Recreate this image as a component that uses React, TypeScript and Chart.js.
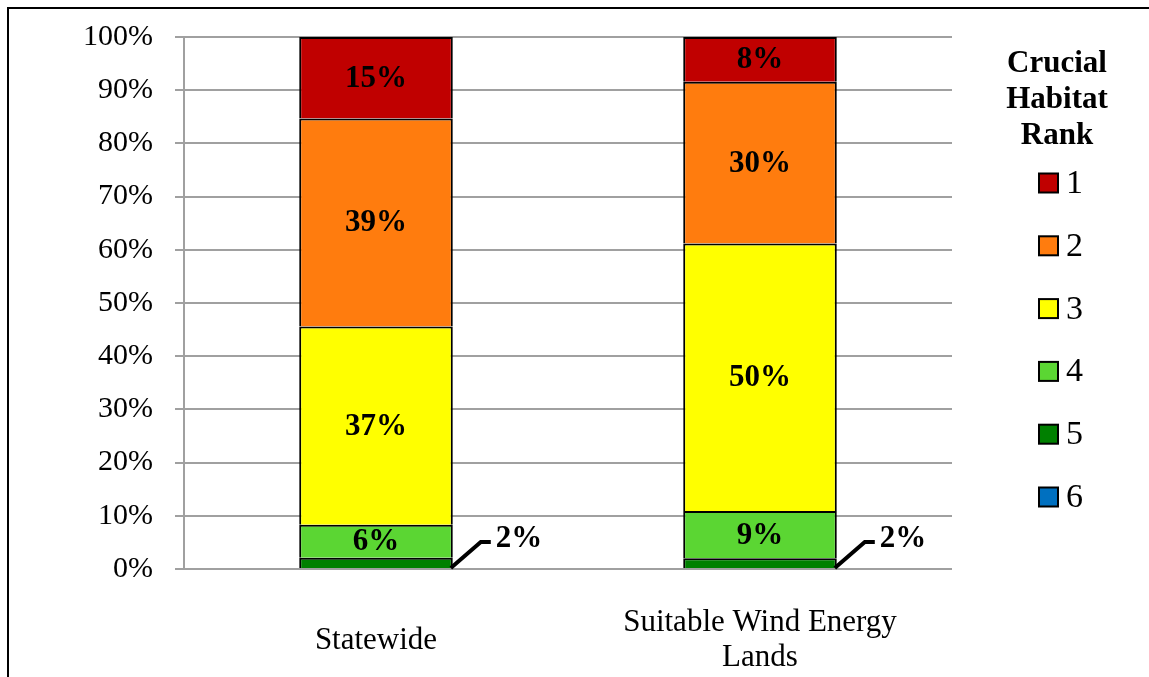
import React, { useEffect, useRef } from "react";
import { Chart, registerables } from "chart.js";

Chart.register(...registerables);

const FONT = "'Liberation Serif', 'Times New Roman', serif";

const categories: (string | string[])[] = ["Statewide", ["Suitable Wind Energy", "Lands"]];
const rankLabels = ["1", "2", "3", "4", "5", "6"];
const rankColors = ["#C00000", "#FF7C0E", "#FFFF00", "#5BD633", "#008000", "#0070C0"];
const statewide = [15.3, 39.1, 37.3, 6.2, 2.1, 0];
const suitableWind = [8.4, 30.4, 50.3, 8.9, 2.0, 0];
const yTickLabels = ["0%", "10%", "20%", "30%", "40%", "50%", "60%", "70%", "80%", "90%", "100%"];
const legendTitle = ["Crucial", "Habitat", "Rank"];

const segLabelPlugin = {
  id: "segLabels",
  afterDatasetsDraw(chart: any) {
    const ctx = chart.ctx;
    ctx.save();
    ctx.fillStyle = "#000";
    ctx.strokeStyle = "#000";
    ctx.font = `bold 31px ${FONT}`;
    ctx.textBaseline = "middle";
    chart.data.datasets.forEach((ds: any, di: number) => {
      const meta = chart.getDatasetMeta(di);
      meta.data.forEach((el: any, i: number) => {
        const v = ds.data[i];
        if (!v) return;
        const { x, y, base, width } = el.getProps(["x", "y", "base", "width"], true);
        const txt = Math.round(v) + "%";
        if (v >= 4) {
          ctx.textAlign = "center";
          ctx.fillText(txt, x, (y + base) / 2 + 1);
        } else {
          const r = x + width / 2;
          ctx.lineWidth = 4;
          ctx.beginPath();
          ctx.moveTo(r - 2, base);
          ctx.lineTo(r + 28, base - 26);
          ctx.lineTo(r + 38, base - 26);
          ctx.stroke();
          ctx.textAlign = "left";
          ctx.fillText(txt, r + 43, base - 29);
        }
      });
    });
    ctx.restore();
  },
};

const legendPlugin = {
  id: "customLegend",
  afterDraw(chart: any) {
    const ctx = chart.ctx;
    ctx.save();
    ctx.fillStyle = "#000";
    ctx.textBaseline = "middle";
    ctx.textAlign = "center";
    ctx.font = `bold 31px ${FONT}`;
    legendTitle.forEach((t, i) => ctx.fillText(t, 1057, 64 + i * 36));
    const ds = [...chart.data.datasets].reverse();
    ds.forEach((d: any, k: number) => {
      const cy = 183 + k * 62.8;
      ctx.fillStyle = d.backgroundColor;
      ctx.fillRect(1039, cy - 9.5, 19, 19);
      ctx.lineWidth = 2;
      ctx.strokeStyle = "#000";
      ctx.strokeRect(1039, cy - 9.5, 19, 19);
      ctx.fillStyle = "#000";
      ctx.textAlign = "left";
      ctx.font = `34px ${FONT}`;
      ctx.fillText(d.label, 1066, cy + 1);
    });
    ctx.restore();
  },
};

export default function App() {
  const ref = useRef<HTMLCanvasElement>(null);
  useEffect(() => {
    if (!ref.current) return;
    const idx = [5, 4, 3, 2, 1, 0];
    const chart = new Chart(ref.current, {
      type: "bar",
      data: {
        labels: categories as any,
        datasets: idx.map((k) => ({
          label: rankLabels[k],
          data: [statewide[k], suitableWind[k]],
          backgroundColor: rankColors[k],
          borderColor: "#000",
          borderWidth: 2,
          barPercentage: 0.4,
          categoryPercentage: 1.0,
        })),
      },
      options: {
        animation: false,
        responsive: false,
        layout: { padding: { top: 37, right: 197, left: 0, bottom: 0 } },
        plugins: {
          legend: { display: false },
          tooltip: { enabled: false },
        },
        scales: {
          x: {
            stacked: true,
            grid: { display: false, drawTicks: false },
            border: { display: false },
            ticks: {
              color: "#000",
              font: { family: FONT, size: 31, lineHeight: 1.13 },
              padding: 54,
              crossAlign: "center",
              maxRotation: 0,
              autoSkip: false,
            },
            afterFit: (s: any) => {
              s.height = 108;
              s.paddingTop = 0;
              s.paddingBottom = 0;
            },
          },
          y: {
            stacked: true,
            min: 0,
            max: 100,
            ticks: {
              stepSize: 10,
              color: "#000",
              font: { family: FONT, size: 30 },
              padding: 22,
              callback: (_v: any, i: number) => yTickLabels[i],
            },
            grid: { color: "#a0a0a0", lineWidth: 2, tickLength: 9 },
            border: { color: "#a0a0a0", width: 2 },
            afterFit: (s: any) => {
              s.width = 184;
              s.paddingTop = 0;
              s.paddingBottom = 0;
            },
          },
        },
      } as any,
      plugins: [segLabelPlugin, legendPlugin],
    });
    return () => chart.destroy();
  }, []);

  return (
    <div style={{ position: "absolute", left: 0, top: 0, width: 1149, height: 677, background: "#fff", overflow: "hidden" }}>
      <div
        style={{
          position: "absolute",
          left: 7,
          top: 7,
          width: 1160,
          height: 700,
          borderLeft: "2px solid #000",
          borderTop: "2px solid #000",
        }}
      />
      <canvas ref={ref} width={1149} height={677} style={{ position: "absolute", left: 0, top: 0, width: 1149, height: 677 }} />
    </div>
  );
}
